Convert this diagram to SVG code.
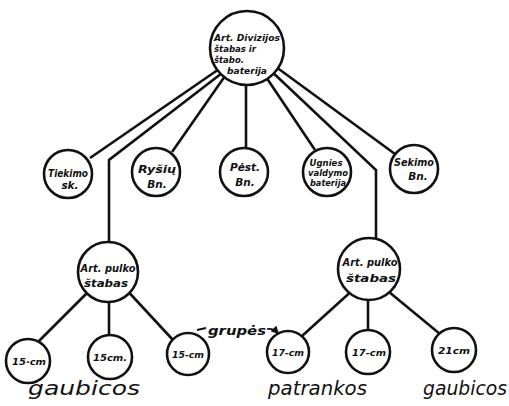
<svg xmlns="http://www.w3.org/2000/svg" width="509" height="406" viewBox="0 0 509 406">
<style>
.bg{fill:#ffffff}
.c{fill:#ffffff;stroke:#111111;stroke-width:2.6}
.e{fill:none;stroke:#111111;stroke-width:2.6;stroke-linejoin:miter}
.t{font-family:"DejaVu Sans",sans-serif;font-style:italic;font-weight:bold;fill:#111111;text-anchor:middle}
.s{font-size:9px}
.m{font-size:10.5px}
.tp{font-size:9px}
.big{font-family:"DejaVu Sans",sans-serif;font-style:italic;font-size:19px;fill:#111111}
</style>
<defs>
<marker id="ah" viewBox="0 0 10 10" refX="8" refY="5" markerWidth="5" markerHeight="5" orient="auto">
<path d="M0,0 L10,5 L0,10 z" fill="#111111"/>
</marker>
</defs>
<rect class="bg" x="0" y="0" width="509" height="406"/>
<g id="connectors">
<line class="e" x1="90" y1="158" x2="222" y2="67"/>
<polyline class="e" points="226,70 109,160 109,242"/>
<line class="e" x1="172" y1="152" x2="232" y2="66"/>
<line class="e" x1="246" y1="80" x2="246" y2="148"/>
<line class="e" x1="315" y1="150" x2="260" y2="68"/>
<polyline class="e" points="268,68 376,170 376,239"/>
<line class="e" x1="395" y1="154" x2="272" y2="64"/>
<line class="e" x1="95" y1="285" x2="39" y2="341"/>
<line class="e" x1="109" y1="300" x2="109" y2="336"/>
<line class="e" x1="123" y1="286" x2="173" y2="340"/>
<line class="e" x1="355" y1="288" x2="302" y2="336"/>
<line class="e" x1="368" y1="298" x2="368" y2="331"/>
<line class="e" x1="383" y1="287" x2="440" y2="334"/>
</g>
<g id="n-div"><circle class="c" cx="247" cy="48" r="37"/>
<text class="t tp" x="247" y="41" textLength="66" lengthAdjust="spacingAndGlyphs">Art. Divizijos</text>
<text class="t tp" x="235" y="52" textLength="42" lengthAdjust="spacingAndGlyphs">štabas ir</text>
<text class="t tp" x="229" y="63" textLength="30" lengthAdjust="spacingAndGlyphs">štabo.</text>
<text class="t tp" x="247" y="74" textLength="40" lengthAdjust="spacingAndGlyphs">baterija</text></g>
<g id="n-tiek"><circle class="c" cx="68" cy="174" r="24"/>
<text class="t m" x="68" y="177" textLength="40" lengthAdjust="spacingAndGlyphs">Tiekimo</text>
<text class="t m" x="70" y="189">sk.</text></g>
<g id="n-rys"><circle class="c" cx="156" cy="172" r="24"/>
<text class="t m" x="157" y="173" textLength="38" lengthAdjust="spacingAndGlyphs">Ryšių</text>
<text class="t m" x="157" y="188">Bn.</text></g>
<g id="n-pest"><circle class="c" cx="244" cy="172" r="24"/>
<text class="t m" x="245" y="171">Pėst.</text>
<text class="t m" x="245" y="186">Bn.</text></g>
<g id="n-ugn"><circle class="c" cx="327" cy="172" r="24"/>
<text class="t s" x="326" y="166" textLength="33" lengthAdjust="spacingAndGlyphs">Ugnies</text>
<text class="t s" x="328" y="176" textLength="40" lengthAdjust="spacingAndGlyphs">valdymo</text>
<text class="t s" x="328" y="186" textLength="36" lengthAdjust="spacingAndGlyphs">baterija</text></g>
<g id="n-sek"><circle class="c" cx="414" cy="169" r="24"/>
<text class="t m" x="414" y="166" textLength="40" lengthAdjust="spacingAndGlyphs">Sekimo</text>
<text class="t m" x="418" y="180">Bn.</text></g>
<g id="n-pulk1"><circle class="c" cx="108" cy="272" r="30"/>
<text class="t m" x="108" y="272" textLength="55" lengthAdjust="spacingAndGlyphs">Art. pulko</text>
<text class="t m" x="106" y="287" textLength="44" lengthAdjust="spacingAndGlyphs">štabas</text></g>
<g id="n-pulk2"><circle class="c" cx="369" cy="269" r="31"/>
<text class="t m" x="370" y="266" textLength="55" lengthAdjust="spacingAndGlyphs">Art. pulko</text>
<text class="t m" x="371" y="282" textLength="50" lengthAdjust="spacingAndGlyphs">štabas</text></g>
<g id="n-b1"><circle class="c" cx="28" cy="361" r="22"/>
<text class="t s" x="29" y="365" textLength="34" lengthAdjust="spacingAndGlyphs">15·cm</text></g>
<g id="n-b2"><circle class="c" cx="110" cy="357" r="22"/>
<text class="t s" x="110" y="361" textLength="34" lengthAdjust="spacingAndGlyphs">15cm.</text></g>
<g id="n-b3"><circle class="c" cx="188" cy="354" r="21"/>
<text class="t s" x="188" y="358" textLength="32" lengthAdjust="spacingAndGlyphs">15-cm</text></g>
<g id="n-b4"><circle class="c" cx="288" cy="352" r="21"/>
<text class="t s" x="288" y="356" textLength="32" lengthAdjust="spacingAndGlyphs">17-cm</text></g>
<g id="n-b5"><circle class="c" cx="368" cy="352" r="22"/>
<text class="t s" x="369" y="356" textLength="34" lengthAdjust="spacingAndGlyphs">17-cm</text></g>
<g id="n-b6"><circle class="c" cx="454" cy="350" r="22"/>
<text class="t s" x="454" y="354" textLength="32" lengthAdjust="spacingAndGlyphs">21cm</text></g>
<g id="labels">
<line x1="197" y1="330" x2="206" y2="328" stroke="#111111" stroke-width="2"/>
<text class="t" style="font-size:13px" x="237" y="335" textLength="58" lengthAdjust="spacingAndGlyphs">grupės</text>
<path d="M267,329 Q273,328 278,333" fill="none" stroke="#111111" stroke-width="1.6" marker-end="url(#ah)"/>
<text class="big" x="28" y="395" textLength="112" lengthAdjust="spacingAndGlyphs">gaubicos</text>
<text class="big" x="268" y="395" textLength="99" lengthAdjust="spacingAndGlyphs">patrankos</text>
<text class="big" x="423" y="395" textLength="84" lengthAdjust="spacingAndGlyphs">gaubicos</text>
</g>
</svg>
